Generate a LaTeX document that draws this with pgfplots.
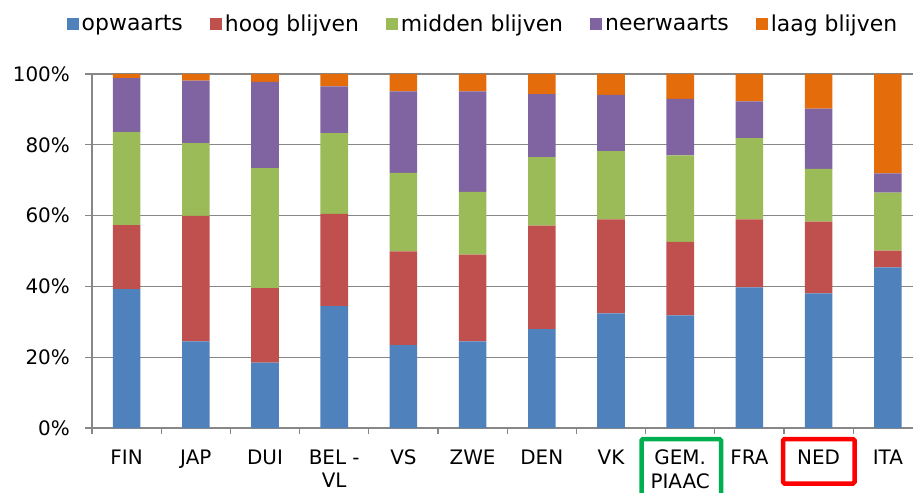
\documentclass[border=0pt]{standalone}
\usepackage{fontspec}
\setmainfont{DejaVu Sans}
\usepackage{pgfplots}
\usepackage{pgfplotstable}
\pgfplotsset{compat=1.18}
\definecolor{cBlue}{HTML}{4F81BD}
\definecolor{cRed}{HTML}{C0504D}
\definecolor{cGreen}{HTML}{9BBB59}
\definecolor{cPurple}{HTML}{8064A2}
\definecolor{cOrange}{HTML}{E46C0A}
\definecolor{axisgray}{HTML}{878787}
\definecolor{boxgreen}{HTML}{00B050}
\pgfplotstableread{
x up hoog midden neer laag
0 39.2 18.1 26.3 15.2 1.2
1 24.5 35.4 20.6 17.6 1.9
2 18.5 21.0 33.9 24.4 2.2
3 34.4 26.1 22.8 13.2 3.5
4 23.4 26.5 22.2 23.0 4.9
5 24.5 24.5 17.7 28.4 4.9
6 27.9 29.3 19.3 17.8 5.7
7 32.4 26.5 19.3 15.9 5.9
8 31.8 20.8 24.4 16.0 7.0
9 39.7 19.2 23.0 10.4 7.7
10 38.0 20.3 14.9 17.0 9.8
11 45.4 4.7 16.4 5.4 28.1
}\datatable
\begin{document}
\begin{tikzpicture}
\begin{axis}[
  at={(0,0)}, anchor=south west,
  scale only axis, width=821bp, height=354bp,
  ybar stacked, bar width=27.6bp,
  xmin=-0.5, xmax=11.364, ymin=0, ymax=100,
  separate axis lines,
  axis x line*=bottom, axis y line*=left,
  axis line style={-, draw=axisgray, line width=1.3bp},
  ymajorgrids, grid style={draw=axisgray, line width=1.3bp},
  ytick={0,20,40,60,80,100},
  yticklabels={0\%,20\%,40\%,60\%,80\%,100\%},
  xtick={0,...,11},
  xticklabels={FIN,JAP,DUI,{BEL -\\VL},VS,ZWE,DEN,VK,{GEM.\\PIAAC},FRA,NED,ITA},
  minor xtick={-0.5,0.5,...,10.5},
  tick align=outside, tick pos=left,
  major tick length=7bp, minor tick length=6bp,
  major x tick style={draw=none},
  minor x tick style={draw=axisgray, line width=1.3bp},
  ytick style={draw=axisgray, line width=1.3bp},
  xticklabel style={align=center, font=\fontsize{20}{23.3}\selectfont, inner sep=0pt, anchor=north, yshift=-15bp},
  yticklabel style={font=\fontsize{20}{24}\selectfont, inner sep=0pt, anchor=east, xshift=-15bp},
  legend style={at={(0.4768,1.1412)}, anchor=center, draw=none, fill=none,
    legend columns=-1, font=\fontsize{22}{25}\selectfont,
    /tikz/every even column/.append style={column sep=24bp},
    nodes={inner xsep=3bp, inner ysep=0pt}},
  legend image code/.code={\fill[#1] (0bp,-6bp) rectangle (12bp,6bp);},
]
\addplot[fill=cBlue, draw=none] table[x=x,y=up] {\datatable};
\addlegendentry{opwaarts}
\addplot[fill=cRed, draw=none] table[x=x,y=hoog] {\datatable};
\addlegendentry{hoog blijven}
\addplot[fill=cGreen, draw=none] table[x=x,y=midden] {\datatable};
\addlegendentry{midden blijven}
\addplot[fill=cPurple, draw=none] table[x=x,y=neer] {\datatable};
\addlegendentry{neerwaarts}
\addplot[fill=cOrange, draw=none] table[x=x,y=laag] {\datatable};
\addlegendentry{laag blijven}
\end{axis}
\draw[boxgreen, line width=4.5bp, rounded corners=1.5bp] (549.5bp,-80bp) -- (549.5bp,-11bp) -- (629bp,-11bp) -- (629bp,-80bp);
\draw[red, line width=4.5bp, rounded corners=1.5bp] (691bp,-11bp) rectangle (762.5bp,-55.5bp);
\pgfresetboundingbox
\path[use as bounding box] (-92bp,-65bp) rectangle (821bp,428bp);
\end{tikzpicture}
\end{document}
